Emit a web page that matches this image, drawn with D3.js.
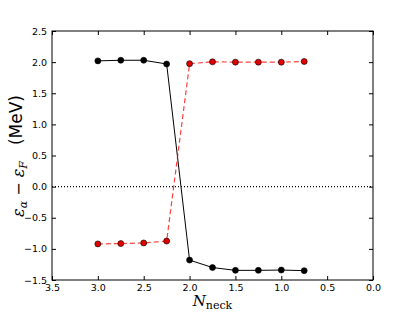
<!DOCTYPE html>
<html><head><meta charset="utf-8">
<script src="https://cdn.jsdelivr.net/npm/d3@7/dist/d3.min.js"></script>
<style>body{margin:0;background:#fff}svg{display:block}</style>
</head><body>
<script>
const nNeck = [3.0, 2.75, 2.5, 2.25, 2.0, 1.75, 1.5, 1.25, 1.0, 0.75];
const blackSeries = [2.02, 2.03, 2.03, 1.97, -1.18, -1.30, -1.345, -1.345, -1.34, -1.35];
const redSeries = [-0.92, -0.915, -0.905, -0.875, 1.975, 2.005, 2.0, 2.0, 2.0, 2.01];
const xTicks = [3.5, 3.0, 2.5, 2.0, 1.5, 1.0, 0.5, 0.0];
const yTicks = [2.5, 2.0, 1.5, 1.0, 0.5, 0.0, -0.5, -1.0, -1.5];

const W = 415, H = 312;
const m = {l: 52, r: 373, t: 31, b: 280};
const svg = d3.select("body").append("svg").attr("width", W).attr("height", H);
const x = d3.scaleLinear().domain([3.5, 0]).range([m.l, m.r]);
const y = d3.scaleLinear().domain([-1.5, 2.5]).range([m.b, m.t]);
const fmt = d3.format(".1f");
const minus = s => s.replace("-", "\u2212");

// zero line
svg.append("line").attr("x1", m.l).attr("x2", m.r).attr("y1", y(0)).attr("y2", y(0))
  .attr("stroke", "#000").attr("stroke-width", 1.2).attr("stroke-dasharray", "1,2");

const line = d3.line().x((d, i) => x(nNeck[i])).y(d => y(d));
svg.append("path").datum(blackSeries).attr("d", line).attr("fill", "none")
  .attr("stroke", "#000").attr("stroke-width", 1);
svg.append("path").datum(redSeries).attr("d", line).attr("fill", "none")
  .attr("stroke", "#ff0000").attr("stroke-opacity", 0.75).attr("stroke-width", 1.2).attr("stroke-dasharray", "5,3");

svg.selectAll("circle.b").data(blackSeries).enter().append("circle")
  .attr("cx", (d, i) => x(nNeck[i])).attr("cy", d => y(d)).attr("r", 3)
  .attr("fill", "#000").attr("stroke", "#000").attr("stroke-width", 0.6);
svg.selectAll("circle.r").data(redSeries).enter().append("circle")
  .attr("cx", (d, i) => x(nNeck[i])).attr("cy", d => y(d)).attr("r", 3)
  .attr("fill", "#e00000").attr("stroke", "#000").attr("stroke-width", 0.6);

// axes with inward ticks
const font = "DejaVu Sans, sans-serif";
const ax = (g, axis) => { g.call(axis); g.select(".domain").remove();
  g.selectAll("text").attr("font-family", font).attr("font-size", 9.5).attr("fill", "#000");
  g.selectAll("line").attr("stroke", "#000"); };
svg.append("g").attr("transform", `translate(0,${m.b})`)
  .call(g => ax(g, d3.axisBottom(x).tickValues(xTicks).tickFormat(d => fmt(d)).tickSize(-4).tickPadding(4)));
svg.append("g").attr("transform", `translate(0,${m.t})`)
  .call(g => ax(g, d3.axisTop(x).tickValues(xTicks).tickFormat("").tickSize(-4)));
svg.append("g").attr("transform", `translate(${m.l},0)`)
  .call(g => ax(g, d3.axisLeft(y).tickValues(yTicks).tickFormat(d => minus(fmt(d))).tickSize(-4).tickPadding(5)));
svg.append("g").attr("transform", `translate(${m.r},0)`)
  .call(g => ax(g, d3.axisRight(y).tickValues(yTicks).tickFormat("").tickSize(-4)));
svg.append("rect").attr("x", m.l).attr("y", m.t).attr("width", m.r - m.l).attr("height", m.b - m.t)
  .attr("fill", "none").attr("stroke", "#000").attr("stroke-width", 1);

// x label
const xl = svg.append("text").attr("x", (m.l + m.r) / 2).attr("y", 306).attr("text-anchor", "middle")
  .attr("font-family", "DejaVu Serif, serif").attr("font-size", 15);
xl.append("tspan").attr("font-style", "italic").text("N");
xl.append("tspan").attr("font-size", 11).attr("dy", 3).text("neck");

// y label
const yl = svg.append("text").attr("transform", "translate(24,189) rotate(-90)").attr("text-anchor", "middle")
  .attr("font-family", "DejaVu Serif, serif").attr("font-size", 16);
yl.append("tspan").attr("font-style", "italic").text("ε");
yl.append("tspan").attr("font-style", "italic").attr("font-size", 11).attr("dy", 3).text("α");
yl.append("tspan").attr("dy", -3).text(" − ");
yl.append("tspan").attr("font-style", "italic").text("ε");
yl.append("tspan").attr("font-style", "italic").attr("font-size", 11).attr("dy", 3).text("F");
svg.append("text").attr("transform", "translate(22,120) rotate(-90)").attr("text-anchor", "middle")
  .attr("font-family", font).attr("font-size", 17).text("(MeV)");
</script>
</body></html>
